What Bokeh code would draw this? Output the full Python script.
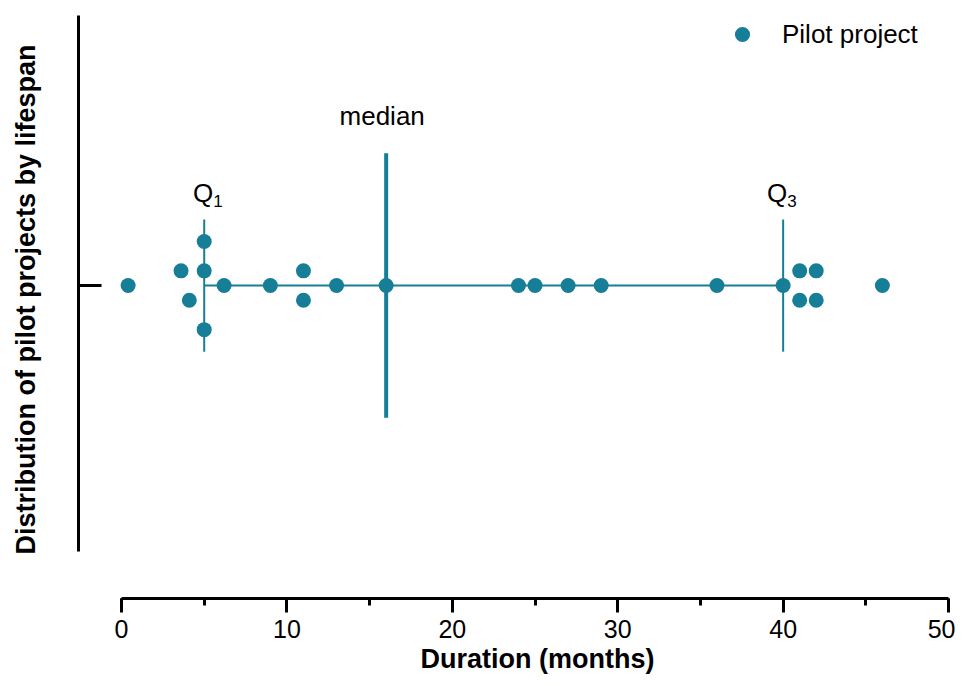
from bokeh.plotting import figure
from bokeh.models import (Range1d, LinearAxis, FixedTicker, SingleIntervalTicker,
                          Label, Legend, LegendItem, ColumnDataSource, Title)
from bokeh.embed import file_html
from bokeh.resources import INLINE

# ---- data ----
durations = [0.4, 3.6, 4.1, 5, 5, 5, 6.2, 9, 11, 11, 13, 16, 24, 25, 27, 29, 36, 40, 41, 41, 42, 42, 46]
spread    = [0, 1, -1, 3, 1, -3, 0, 0, 1, -1, 0, 0, 0, 0, 0, 0, 0, 0, 1, -1, 1, -1, 0]
q1, median, q3 = 5, 16, 40
x_ticks_interval = 10
series_name = "Pilot project"
x_title = "Duration (months)"
y_title = "Distribution of pilot projects by lifespan"

TEAL = "#177E98"
FONT = "Liberation Sans"

p = figure(width=955, height=678,
           x_range=Range1d(-2.60, 50.42), y_range=Range1d(-21.29, 19.39),
           output_backend="svg", toolbar_location=None,
           x_axis_type=None, y_axis_type=None,
           min_border_left=78, min_border_right=0, min_border_top=0, min_border_bottom=80,
           outline_line_color=None, background_fill_color="white")
p.xgrid.visible = False
p.ygrid.visible = False

# x axis
xa = LinearAxis(bounds=(0, 50), ticker=SingleIntervalTicker(interval=x_ticks_interval, num_minor_ticks=2),
                axis_line_width=3, axis_line_color="black",
                major_tick_line_width=3, major_tick_out=14, major_tick_in=0,
                minor_tick_line_width=3, minor_tick_out=7, minor_tick_in=0,
                major_label_text_font=FONT, major_label_text_font_size="25px",
                major_label_text_color="black", major_label_standoff=7)
p.add_layout(xa, "below")

# y axis
ya = LinearAxis(bounds=(-18.1, 18.37), ticker=FixedTicker(ticks=[0]),
                major_label_overrides={0: ""}, major_label_standoff=0,
                axis_line_width=3, axis_line_color="black",
                major_tick_line_width=3, major_tick_in=23, major_tick_out=0,
                minor_tick_line_alpha=0,
                axis_label=y_title, axis_label_text_font=FONT, axis_label_text_font_size="27px",
                axis_label_text_font_style="bold", axis_label_text_color="black",
                axis_label_standoff=38)
p.add_layout(ya, "left")

# x axis title
p.add_layout(Title(text=x_title, align="left", offset=342, standoff=2,
                   text_font=FONT, text_font_size="27px", text_font_style="bold",
                   text_color="black"), "below")

# quartile / median lines
p.segment(x0=[q1], y0=[0], x1=[q3], y1=[0], line_color=TEAL, line_width=2)
p.segment(x0=[q1, q3], y0=[-4.5, -4.5], x1=[q1, q3], y1=[4.5, 4.5], line_color=TEAL, line_width=2)
p.segment(x0=[median], y0=[-9], x1=[median], y1=[9], line_color=TEAL, line_width=4)

src = ColumnDataSource(dict(x=durations, y=spread))
pts = p.scatter("x", "y", source=src, size=15, fill_color=TEAL, line_color=TEAL, line_width=0)

# annotations
p.add_layout(Label(x=median, y=11.02, x_offset=-4, y_offset=8, text="median", text_align="center",
                   text_baseline="alphabetic", text_font=FONT, text_font_size="26px", text_color="black"))
for qx, qoff, sub in [(q1, -1, "1"), (q3, -6, "3")]:
    p.add_layout(Label(x=qx, y=5.75, x_offset=qoff, y_offset=8, text="Q", text_align="center",
                       text_baseline="alphabetic", text_font=FONT, text_font_size="26px", text_color="black"))
    p.add_layout(Label(x=qx, y=5.75, x_offset=qoff + 10, y_offset=0, text=sub, text_align="left",
                       text_baseline="alphabetic", text_font=FONT, text_font_size="17px", text_color="black"))

legend = Legend(items=[LegendItem(label=series_name, renderers=[pts])],
                location=(645, 545), padding=0, margin=0, spacing=0,
                glyph_width=38, glyph_height=38, label_height=38, label_standoff=21,
                label_text_font=FONT, label_text_font_size="26px", label_text_color="black",
                border_line_alpha=0, background_fill_alpha=0)
p.add_layout(legend)

open("out.html", "w").write(file_html(p, INLINE))
